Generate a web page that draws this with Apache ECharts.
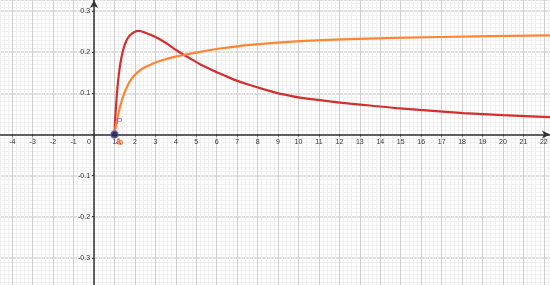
<!DOCTYPE html>
<html>
<head>
    <meta charset="utf-8">
    <title>曲线图</title>
    <script src="https://cdn.jsdelivr.net/npm/echarts@6/dist/echarts.min.js"></script>
    <style>
        html, body { margin: 0; padding: 0; background: #fff; }
        #main { width: 550px; height: 285px; }
    </style>
</head>
<body>
<div id="main"></div>
<script>
    // values
    let redX = [1, 1.02, 1.05, 1.09, 1.13, 1.17, 1.25, 1.34, 1.45, 1.58, 1.7, 1.82, 2, 2.15, 2.3, 2.48, 2.8, 3.13, 3.62, 4, 4.34, 4.8, 5.18, 5.6, 6.16, 6.81, 7.5, 8.44, 9.2, 10.07, 11.54, 12.52, 13.5, 14.8, 16.4, 18.06, 20, 22.3];
    let redY = [0, 0.025, 0.05, 0.08, 0.105, 0.127, 0.16, 0.187, 0.21, 0.228, 0.238, 0.244, 0.25, 0.252, 0.251, 0.248, 0.242, 0.234, 0.219, 0.206, 0.195, 0.182, 0.171, 0.161, 0.148, 0.134, 0.122, 0.108, 0.098, 0.0895, 0.0805, 0.075, 0.0705, 0.064, 0.058, 0.052, 0.047, 0.042];
    let orangeX = [1, 1.03, 1.09, 1.17, 1.26, 1.38, 1.5, 1.65, 1.82, 2, 2.3, 2.6, 3, 3.5, 4, 4.5, 5.18, 6.16, 7.63, 10.07, 12.52, 16.92, 22.3];
    let orangeY = [0, 0.01, 0.027, 0.045, 0.065, 0.086, 0.103, 0.12, 0.134, 0.145, 0.158, 0.166, 0.175, 0.183, 0.1893, 0.1945, 0.201, 0.209, 0.218, 0.227, 0.232, 0.237, 0.241];
    let pointP = [1, 0];
    let curveNames = ['a', 'b'];

    function pairs(xs, ys) {
        return xs.map(function (x, i) { return [x, ys[i]]; });
    }

    function withLabel(data, name, color, offset) {
        data[0] = {
            value: data[0],
            label: {show: true, formatter: name, color: color, fontSize: 9, fontWeight: 'bold', position: 'bottom', offset: offset}
        };
        return data;
    }

    let axisColor = '#333';
    let font = 'Liberation Sans';
    let xMin = -5, xMax = 22.3, yMin = -0.4, yMax = 0.327;

    let myChart = echarts.init(document.getElementById('main'));

    function lineSeries(name, xs, ys, color, offset, z) {
        return {
            name: name,
            type: 'line',
            smooth: 0.25,
            showSymbol: true,
            showAllSymbol: true,
            symbol: 'circle',
            symbolSize: 0.01,
            z: z,
            lineStyle: {color: color, width: 2.2},
            itemStyle: {color: color},
            data: withLabel(pairs(xs, ys), name, color, offset)
        };
    }

    myChart.setOption({
        animation: false,
        grid: {left: -8.2, right: 0, top: 0, bottom: -14, containLabel: false, outerBoundsMode: 'none'},
        xAxis: {
            type: 'value',
            min: xMin,
            max: xMax,
            interval: 1,
            position: 'bottom',
            axisLine: {onZero: false, symbol: ['none', 'arrow'], symbolSize: [6, 8], lineStyle: {color: axisColor, width: 1.5}},
            axisTick: {show: true, length: 2, lineStyle: {color: axisColor}},
            axisLabel: {
                margin: 4, fontSize: 7, color: axisColor, fontFamily: font, showMaxLabel: false,
                formatter: function (v) { return v === 0 ? '{z|0}' : String(v); },
                rich: {z: {fontSize: 7, color: axisColor, fontFamily: font, padding: [0, 10, 0, 0]}}
            },
            splitLine: {show: true, lineStyle: {color: '#cfcfcf', width: 1}},
            minorTick: {show: false, splitNumber: 5},
            minorSplitLine: {show: true, lineStyle: {color: '#f0f0f0', width: 1}}
        },
        yAxis: {
            type: 'value',
            min: yMin,
            max: yMax,
            interval: 0.1,
            position: 'left',
            axisLine: {onZero: false, symbol: ['none', 'arrow'], symbolSize: [6, 8], lineStyle: {color: axisColor, width: 1.5}},
            axisTick: {show: true, length: 2, lineStyle: {color: axisColor}},
            axisLabel: {
                margin: 4, fontSize: 7, color: axisColor, fontFamily: font, showMaxLabel: false,
                formatter: function (v) { return Math.abs(v) < 1e-9 ? '' : String(Math.round(v * 10) / 10); }
            },
            splitLine: {show: true, lineStyle: {color: '#d6d6d6', width: 1.5}},
            minorTick: {show: false, splitNumber: 10},
            minorSplitLine: {show: true, lineStyle: {color: '#f0f0f0', width: 1}}
        },
        series: [
            lineSeries(curveNames[0], redX, redY, '#d32f2f', [4, -2], 3),
            lineSeries(curveNames[1], orangeX, orangeY, '#ff8533', [6, -1], 4),
            {
                name: 'P',
                type: 'scatter',
                z: 5,
                symbol: 'circle',
                symbolSize: 7,
                itemStyle: {color: '#1b1b4d', borderColor: '#4a4aff', borderWidth: 1.2},
                label: {show: true, formatter: 'P', position: 'top', offset: [5, 1], color: '#5c5cff', fontSize: 9, fontFamily: font},
                data: [pointP]
            }
        ]
    });

    // move the axes (line + labels) so they cross at the origin
    let origin = myChart.convertToPixel({gridIndex: 0}, [0, 0]);
    let corner = myChart.convertToPixel({gridIndex: 0}, [xMin, yMin]);
    myChart.setOption({
        xAxis: {offset: -(corner[1] - origin[1])},
        yAxis: {offset: -(origin[0] - corner[0])}
    });
</script>
</body>
</html>
